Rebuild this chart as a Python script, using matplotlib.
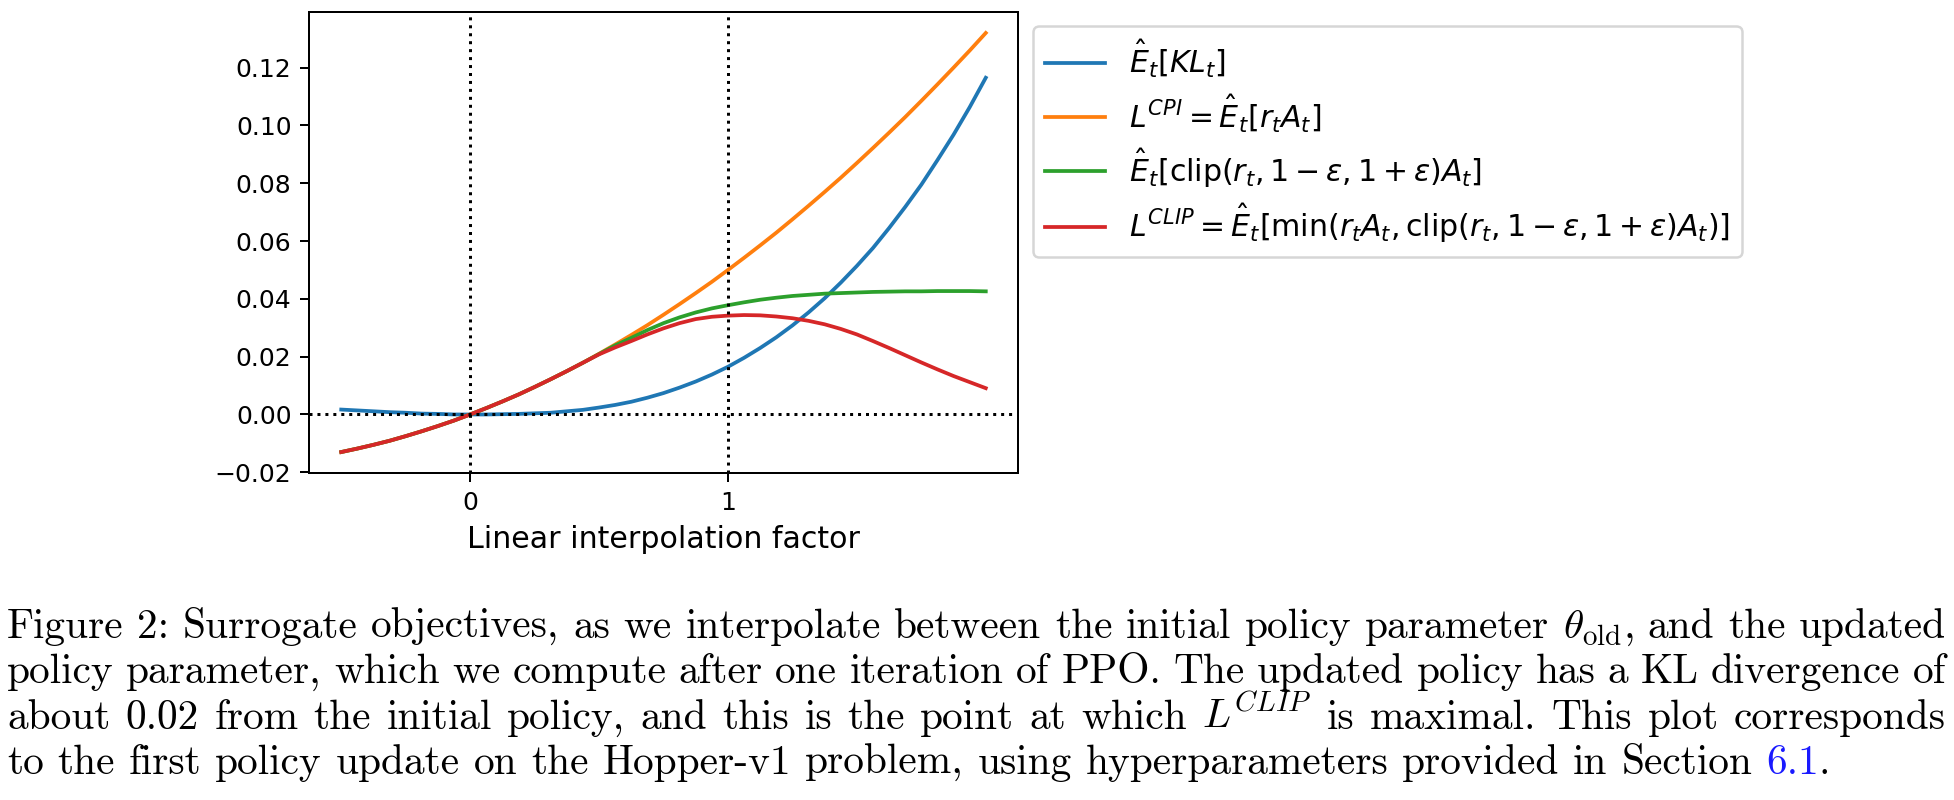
import matplotlib
matplotlib.use('Agg')
import matplotlib.pyplot as plt

# interpolation factor and the four surrogate curves
x = [-0.5, -0.4375, -0.375, -0.3125, -0.25, -0.1875, -0.125, -0.0625, 0.0,
     0.0625, 0.125, 0.1875, 0.25, 0.3125, 0.375, 0.4375, 0.5, 0.5625, 0.625,
     0.6875, 0.75, 0.8125, 0.875, 0.9375, 1.0, 1.0625, 1.125, 1.1875, 1.25,
     1.3125, 1.375, 1.4375, 1.5, 1.5625, 1.625, 1.6875, 1.75, 1.8125, 1.875,
     1.9375, 2.0]
kl = [0.0017, 0.0014, 0.0011, 0.0008, 0.0006, 0.0003, 0.0002, 0.0000, 0.0,
      0.0000, 0.0001, 0.0002, 0.0004, 0.0006, 0.0011, 0.0016, 0.0024, 0.0033, 0.0044,
      0.0058, 0.0074, 0.0093, 0.0114, 0.0138, 0.0165, 0.0196, 0.0230, 0.0267, 0.0308,
      0.0353, 0.0402, 0.0456, 0.0514, 0.0576, 0.0645, 0.0718, 0.0795, 0.0880, 0.0968,
      0.1063, 0.1165]
cpi = [-0.0130, -0.0118, -0.0105, -0.0091, -0.0075, -0.0058, -0.0040, -0.0021, 0.0,
       0.0022, 0.0045, 0.0069, 0.0095, 0.0122, 0.0150, 0.0179, 0.0210, 0.0242, 0.0275,
       0.0309, 0.0345, 0.0382, 0.0420, 0.0459, 0.0500, 0.0542, 0.0585, 0.0629, 0.0675,
       0.0722, 0.0770, 0.0819, 0.0870, 0.0922, 0.0975, 0.1029, 0.1085, 0.1142, 0.1200,
       0.1259, 0.1320]
clipped = [-0.0130, -0.0118, -0.0105, -0.0091, -0.0075, -0.0058, -0.0040, -0.0021, 0.0,
           0.0022, 0.0045, 0.0069, 0.0095, 0.0122, 0.0150, 0.0179, 0.0209, 0.0239, 0.0265,
           0.0292, 0.0316, 0.0336, 0.0353, 0.0367, 0.0378, 0.0388, 0.0397, 0.0404, 0.0410,
           0.0414, 0.0418, 0.0420, 0.0422, 0.0424, 0.0425, 0.0426, 0.0426, 0.0427, 0.0427,
           0.0427, 0.0426]
lclip = [-0.0130, -0.0118, -0.0105, -0.0091, -0.0075, -0.0058, -0.0040, -0.0021, 0.0,
         0.0022, 0.0045, 0.0069, 0.0095, 0.0122, 0.0150, 0.0179, 0.0208, 0.0232, 0.0254,
         0.0277, 0.0298, 0.0316, 0.0330, 0.0338, 0.0342, 0.0344, 0.0343, 0.0339, 0.0333,
         0.0324, 0.0312, 0.0296, 0.0277, 0.0254, 0.0230, 0.0205, 0.0180, 0.0156, 0.0133,
         0.0112, 0.0091]

labels = [r'$\hat{E}_t[KL_t]$',
          r'$L^{CPI} = \hat{E}_t[r_tA_t]$',
          r'$\hat{E}_t[\mathrm{clip}(r_t, 1 - \varepsilon, 1 + \varepsilon)A_t]$',
          r'$L^{CLIP} = \hat{E}_t[\min(r_tA_t, \mathrm{clip}(r_t, 1 - \varepsilon, 1 + \varepsilon)A_t)]$']
xticks = [0, 1]

caption = [
    r'Figure 2: Surrogate objectives, as we interpolate between the initial policy parameter $\theta_{\mathrm{old}}$, and the updated',
    'policy parameter, which we compute after one iteration of PPO. The updated policy has a KL divergence of',
    r'about 0.02 from the initial policy, and this is the point at which $L^{CLIP}$ is maximal. This plot corresponds',
    'to the first policy update on the Hopper-v1 problem, using hyperparameters provided in Section 6.1.',
]

W, H, DPI = 1954, 800, 180
fig = plt.figure(figsize=(W / DPI, H / DPI), dpi=DPI)
ax = fig.add_axes([309 / W, 1 - 473 / H, (1018 - 309) / W, (473 - 12) / H])

for ys, lab in zip([kl, cpi, clipped, lclip], labels):
    ax.plot(x, ys, label=lab)

ax.axhline(0, color='k', linestyle=':', linewidth=1.2)
for xv in xticks:
    ax.axvline(xv, color='k', linestyle=':', linewidth=1.2)

ax.set_xticks(xticks)
ax.set_xlabel('Linear interpolation factor', fontsize=12)
ax.legend(loc='upper left', bbox_to_anchor=(1033 / W, 1 - 26 / H),
          bbox_transform=fig.transFigure, borderaxespad=0, fontsize=12,
          labelspacing=0.4)

# caption, justified like the paper's text block
cap_kw = dict(family=['cmr10', 'DejaVu Serif'], math_fontfamily='cm')
fig.canvas.draw()
renderer = fig.canvas.get_renderer()

probe = fig.text(0, 0, caption[3], fontsize=10, **cap_kw)
w10 = probe.get_window_extent(renderer).width
probe.remove()
size = 10 * 1825 / w10
space = 0.333 * size * DPI / 72

left, right = 7, 1946
baselines = [638, 683, 729, 774]

for i, line in enumerate(caption):
    words = line.split(' ')
    objs = []
    for wd in words:
        if wd == '6.1.':
            t1 = fig.text(0, 0, '6.1', fontsize=size, color='#1a1aff', va='baseline', **cap_kw)
            t2 = fig.text(0, 0, '.', fontsize=size, va='baseline', **cap_kw)
            objs.append([t1, t2])
        else:
            objs.append([fig.text(0, 0, wd, fontsize=size, va='baseline', **cap_kw)])
    widths = [[t.get_window_extent(renderer).width for t in grp] for grp in objs]
    total = sum(sum(w) for w in widths)
    if i < len(caption) - 1:
        gap = (right - left - total) / (len(words) - 1)
    else:
        gap = space
    px = left
    for grp, ws in zip(objs, widths):
        for t, w in zip(grp, ws):
            t.set_position((px / W, 1 - baselines[i] / H))
            px += w
        px += gap

fig.savefig('out.png', dpi=DPI)
